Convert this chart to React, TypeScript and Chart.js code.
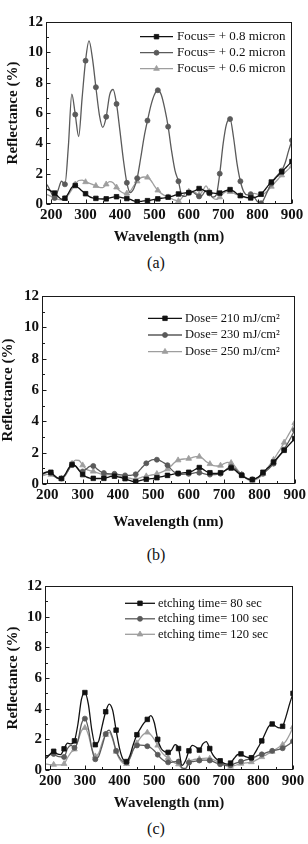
import React, { useEffect, useRef } from "react";
import { Chart, registerables } from "chart.js";

Chart.register(...registerables);

const SERIF = '"Liberation Serif", "Times New Roman", Times, serif';

// Wavelength grid shared by every spectrum (nm)
const wavelengths = [
  180, 190, 200, 210, 220, 230, 240, 250, 260, 270,
  280, 290, 300, 310, 320, 330, 340, 350, 360, 370,
  380, 390, 400, 410, 420, 430, 440, 450, 460, 470,
  480, 490, 500, 510, 520, 530, 540, 550, 560, 570,
  580, 590, 600, 610, 620, 630, 640, 650, 660, 670,
  680, 690, 700, 710, 720, 730, 740, 750, 760, 770,
  780, 790, 800, 810, 820, 830, 840, 850, 860, 870,
  880, 890, 900,
];

const wavelengthTicks = [200, 300, 400, 500, 600, 700, 800, 900];
const reflectanceTicks = [0, 2, 4, 6, 8, 10, 12];

// (a) focus series, reflectance in %
const focus08 = [
  1.0, 0.95, 0.85, 0.72, 0.5, 0.32, 0.38, 0.7, 1.1, 1.22,
  1.05, 0.85, 0.68, 0.5, 0.4, 0.37, 0.34, 0.33, 0.34, 0.4,
  0.46, 0.48, 0.45, 0.4, 0.36, 0.3, 0.2, 0.15, 0.17, 0.2,
  0.22, 0.26, 0.3, 0.34, 0.38, 0.4, 0.45, 0.5, 0.58, 0.66,
  0.7, 0.73, 0.75, 0.8, 0.9, 1.02, 0.95, 0.82, 0.75, 0.72,
  0.7, 0.72, 0.8, 0.9, 0.95, 0.85, 0.68, 0.55, 0.48, 0.42,
  0.4, 0.42, 0.5, 0.65, 0.9, 1.2, 1.45, 1.65, 1.9, 2.12,
  2.35, 2.58, 2.8,
];
const focus02 = [
  1.4, 1.2, 0.75, 0.4, 0.9, 1.5, 1.3, 3.8, 7.25, 5.9,
  4.45, 7.0, 9.45, 10.75, 9.6, 7.7, 5.9, 5.05, 5.75, 7.2,
  7.55, 6.6, 4.8, 2.9, 1.4, 0.75, 1.0, 1.7, 3.0, 4.4,
  5.5, 6.5, 7.2, 7.5, 7.2, 6.3, 5.1, 3.5, 2.2, 1.5,
  0.55, 0.5, 0.75, 0.8, 0.65, 0.5, 0.6, 0.9, 0.7, 0.45,
  0.6, 2.0, 4.0, 5.3, 5.6, 4.4, 2.7, 1.5, 0.8, 0.6,
  0.65, 0.45, 0.15, 0.05, 0.4, 0.9, 1.35, 1.7, 1.95, 2.2,
  2.7, 3.5, 4.2,
];
const focus06 = [
  0.7, 0.6, 0.5, 0.4, 0.3, 0.28, 0.35, 0.6, 0.95, 1.3,
  1.55, 1.58, 1.45, 1.38, 1.3, 1.2, 1.1, 1.08, 1.3, 1.47,
  1.4, 1.1, 0.85, 0.72, 0.7, 0.85, 1.2, 1.5, 1.72, 1.78,
  1.75, 1.55, 1.2, 0.9, 0.7, 0.55, 0.45, 0.35, 0.25, 0.2,
  0.4, 0.7, 0.82, 0.85, 0.75, 0.6, 0.85, 1.2, 0.8, 0.4,
  0.3, 0.45, 0.7, 0.82, 0.8, 0.72, 0.62, 0.55, 0.45, 0.4,
  0.55, 0.7, 0.65, 0.6, 0.7, 0.9, 1.15, 1.4, 1.65, 1.9,
  2.1, 2.3, 2.5,
];

// (b) dose series
const dose210 = [
  0.6, 0.7, 0.78, 0.75, 0.55, 0.38, 0.35, 0.6, 1.0, 1.25,
  1.15, 0.85, 0.6, 0.45, 0.38, 0.36, 0.35, 0.35, 0.36, 0.42,
  0.48, 0.5, 0.46, 0.4, 0.34, 0.25, 0.17, 0.15, 0.2, 0.26,
  0.3, 0.33, 0.36, 0.4, 0.45, 0.5, 0.55, 0.6, 0.65, 0.68,
  0.7, 0.72, 0.75, 0.82, 0.95, 1.05, 0.95, 0.8, 0.72, 0.68,
  0.68, 0.72, 0.82, 0.95, 1.02, 0.9, 0.7, 0.55, 0.4, 0.3,
  0.28, 0.35, 0.5, 0.75, 0.95, 1.15, 1.4, 1.65, 1.9, 2.15,
  2.4, 2.65, 2.9,
];
const dose230 = [
  0.55, 0.65, 0.75, 0.7, 0.5, 0.36, 0.35, 0.55, 0.9, 1.2,
  1.15, 0.9, 0.8, 0.95, 1.12, 1.15, 0.98, 0.8, 0.7, 0.66,
  0.65, 0.65, 0.62, 0.58, 0.55, 0.55, 0.57, 0.62, 0.85, 1.1,
  1.32, 1.48, 1.55, 1.55, 1.48, 1.35, 1.2, 0.95, 0.75, 0.65,
  0.62, 0.63, 0.65, 0.68, 0.72, 0.72, 0.68, 0.62, 0.6, 0.6,
  0.62, 0.66, 0.8, 1.0, 1.1, 1.0, 0.78, 0.6, 0.42, 0.32,
  0.3, 0.36, 0.48, 0.65, 0.85, 1.05, 1.3, 1.6, 1.9, 2.2,
  2.6, 3.0, 3.45,
];
const dose250 = [
  0.45, 0.55, 0.62, 0.6, 0.48, 0.35, 0.33, 0.5, 0.9, 1.3,
  1.52, 1.5, 1.2, 0.95, 0.85, 0.8, 0.72, 0.65, 0.62, 0.6,
  0.58, 0.55, 0.52, 0.48, 0.44, 0.38, 0.33, 0.32, 0.38, 0.45,
  0.5, 0.55, 0.6, 0.65, 0.72, 0.82, 0.95, 1.15, 1.38, 1.52,
  1.58, 1.6, 1.62, 1.68, 1.75, 1.75, 1.62, 1.42, 1.28, 1.18,
  1.15, 1.18, 1.3, 1.38, 1.35, 1.15, 0.85, 0.6, 0.4, 0.25,
  0.22, 0.28, 0.42, 0.65, 0.95, 1.25, 1.55, 1.9, 2.25, 2.65,
  3.05, 3.45, 3.9,
];

// (c) etching-time series
const etch80 = [
  0.75, 0.8, 1.05, 1.22, 1.05, 1.0, 1.38, 1.75, 1.7, 1.9,
  3.0, 4.6, 5.05, 4.3, 2.6, 1.65, 1.9, 2.9, 3.8, 4.3,
  3.9, 2.6, 1.4, 0.7, 0.55, 0.95, 1.7, 2.3, 2.7, 3.05,
  3.3, 3.55, 3.1, 2.0, 1.4, 1.2, 1.15, 1.3, 1.65, 1.4,
  0.3, 0.6, 1.25, 1.6, 1.5, 1.3, 1.7, 1.85, 1.4, 0.95,
  0.7, 0.6, 0.45, 0.38, 0.45, 0.75, 1.0, 1.05, 0.9, 0.82,
  0.8, 1.1, 1.5, 1.9, 2.4, 2.85, 3.0, 2.85, 2.75, 2.85,
  3.5, 4.3, 5.0,
];
const etch100 = [
  0.85, 0.9, 1.0, 1.05, 0.9, 0.85, 0.85, 1.4, 1.6, 1.45,
  1.9, 3.0, 3.35, 2.7, 1.4, 0.7, 0.9, 1.6, 2.35, 2.6,
  2.1, 1.25, 0.8, 0.55, 0.5, 0.8, 1.35, 1.6, 1.62, 1.6,
  1.55, 1.45, 1.25, 1.0, 0.75, 0.58, 0.5, 0.5, 0.55, 0.55,
  0.15, 0.1, 0.48, 0.55, 0.58, 0.62, 0.65, 0.65, 0.62, 0.55,
  0.45, 0.38, 0.33, 0.3, 0.32, 0.4, 0.48, 0.55, 0.62, 0.7,
  0.76, 0.85, 0.95, 1.02, 1.1, 1.18, 1.25, 1.3, 1.35, 1.42,
  1.55, 1.7, 1.88,
];
const etch120 = [
  0.4, 0.38, 0.35, 0.35, 0.33, 0.33, 0.4, 0.8, 1.15, 1.35,
  1.9, 2.55, 2.75, 2.3, 1.4, 0.9, 1.1, 1.8, 2.3, 2.45,
  2.0, 1.2, 0.7, 0.45, 0.4, 0.75, 1.35, 1.75, 2.1, 2.35,
  2.45, 2.3, 2.0, 1.6, 1.2, 0.95, 0.8, 0.6, 0.45, 0.38,
  0.1, 0.05, 0.55, 0.65, 0.7, 0.72, 0.75, 0.78, 0.75, 0.68,
  0.58, 0.48, 0.35, 0.25, 0.22, 0.28, 0.35, 0.42, 0.45, 0.48,
  0.52, 0.6, 0.72, 0.85, 0.95, 1.08, 1.2, 1.35, 1.5, 1.65,
  1.9, 2.3, 2.8,
];

const focusLabels = ["Focus= + 0.8 micron", "Focus= + 0.2 micron", "Focus= + 0.6 micron"];
const doseLabels = ["Dose= 210 mJ/cm\u00B2", "Dose= 230 mJ/cm\u00B2", "Dose= 250 mJ/cm\u00B2"];
const etchLabels = ["etching time= 80 sec", "etching time= 100 sec", "etching time= 120 sec"];

const BLACK = "#111111";
const DARK = "#5a5a5a";
const LIGHT = "#9e9e9e";
const seriesColors = [BLACK, DARK, LIGHT];
const seriesMarkers = ["rect", "circle", "triangle"] as const;
const markerRadius: Record<string, number> = { rect: 3.2, circle: 2.5, triangle: 3.3 };

// symbols sit on every third sample, starting at 210 nm
const MARKER_FROM = 210;
const MARKER_EVERY = 30;
const hasMarker = (w: number) => w >= MARKER_FROM && (w - MARKER_FROM) % MARKER_EVERY === 0;

function drawMarker(ctx: CanvasRenderingContext2D, style: string, x: number, y: number, r: number, color: string) {
  ctx.save();
  ctx.fillStyle = color;
  ctx.strokeStyle = color;
  ctx.lineWidth = 0.8;
  ctx.beginPath();
  if (style === "rect") {
    const s = r * Math.SQRT1_2;
    ctx.rect(x - s, y - s, 2 * s, 2 * s);
  } else if (style === "triangle") {
    let a = 0;
    ctx.moveTo(x + Math.sin(a) * r, y - Math.cos(a) * r);
    a += (2 * Math.PI) / 3;
    ctx.lineTo(x + Math.sin(a) * r, y - Math.cos(a) * r);
    a += (2 * Math.PI) / 3;
    ctx.lineTo(x + Math.sin(a) * r, y - Math.cos(a) * r);
    ctx.closePath();
  } else {
    ctx.arc(x, y, r, 0, Math.PI * 2);
  }
  ctx.fill();
  ctx.stroke();
  ctx.restore();
}

// Box frame with inward major and minor ticks (Origin style)
const frameTicks = {
  id: "frameTicks",
  afterDatasetsDraw(chart: any) {
    const { ctx, chartArea: a, scales } = chart;
    const xs = scales.x;
    const ys = scales.y;
    ctx.save();
    ctx.strokeStyle = "#1a1a1a";
    ctx.lineWidth = 1;
    ctx.strokeRect(Math.round(a.left) + 0.5, Math.round(a.top) + 0.5, Math.round(a.right - a.left) - 1, Math.round(a.bottom - a.top) - 1);
    ctx.beginPath();
    const xMinor = wavelengthTicks.slice(1).map((v, i) => (v + wavelengthTicks[i]) / 2);
    const yMinor = reflectanceTicks.slice(1).map((v, i) => (v + reflectanceTicks[i]) / 2);
    const b = Math.round(a.bottom) - 0.5;
    const l = Math.round(a.left) + 0.5;
    wavelengthTicks.forEach((v) => {
      const px = Math.round(xs.getPixelForValue(v)) + 0.5;
      ctx.moveTo(px, b);
      ctx.lineTo(px, b - 4);
    });
    xMinor.forEach((v) => {
      const px = Math.round(xs.getPixelForValue(v)) + 0.5;
      ctx.moveTo(px, b);
      ctx.lineTo(px, b - 2.5);
    });
    reflectanceTicks.forEach((v) => {
      const py = Math.round(ys.getPixelForValue(v)) + 0.5;
      ctx.moveTo(l, py);
      ctx.lineTo(l + 4, py);
    });
    yMinor.forEach((v) => {
      const py = Math.round(ys.getPixelForValue(v)) + 0.5;
      ctx.moveTo(l, py);
      ctx.lineTo(l + 2.5, py);
    });
    ctx.stroke();
    ctx.restore();
  },
};

// Legend drawn inside the plot: line, symbol, text
const insetLegend = {
  id: "insetLegend",
  afterDraw(chart: any, _args: any, opts: any) {
    const { ctx, chartArea } = chart;
    ctx.save();
    chart.data.datasets.forEach((ds: any, i: number) => {
      const y = chartArea.top + opts.y + i * opts.rowGap;
      const x0 = chartArea.left + opts.x;
      ctx.strokeStyle = ds.borderColor;
      ctx.lineWidth = ds.borderWidth;
      ctx.beginPath();
      ctx.moveTo(x0, y);
      ctx.lineTo(x0 + opts.lineLen, y);
      ctx.stroke();
      drawMarker(ctx, ds.pointStyle, x0 + opts.lineLen / 2, y, markerRadius[ds.pointStyle], ds.borderColor);
      ctx.fillStyle = "#111";
      ctx.font = `${opts.fontSize}px ${SERIF}`;
      ctx.textAlign = "left";
      ctx.textBaseline = "middle";
      ctx.fillText(ds.label, x0 + opts.lineLen + opts.gap, y);
    });
    ctx.restore();
  },
};

type Panel = {
  caption: string;
  labels: string[];
  series: number[][];
  top: number;
  height: number;
  padTop: number;
  padRight: number;
  yAxisWidth: number;
  xAxisHeight: number;
  xTitlePad: number;
  yTitlePad: number;
  legend: { x: number; y: number; lineLen: number; rowGap: number; fontSize: number; gap: number };
  captionTop: number;
};

const panels: Panel[] = [
  {
    caption: "(a)",
    labels: focusLabels,
    series: [focus08, focus02, focus06],
    top: 0,
    height: 252,
    padTop: 22,
    padRight: 16,
    yAxisWidth: 46,
    xAxisHeight: 48,
    xTitlePad: 6,
    yTitlePad: 5.2,
    legend: { x: 94, y: 14.7, lineLen: 33, rowGap: 16, fontSize: 13, gap: 4 },
    captionTop: 253,
  },
  {
    caption: "(b)",
    labels: doseLabels,
    series: [dose210, dose230, dose250],
    top: 275,
    height: 257,
    padTop: 21,
    padRight: 11,
    yAxisWidth: 42,
    xAxisHeight: 48,
    xTitlePad: 1.3,
    yTitlePad: 0.5,
    legend: { x: 106, y: 22.3, lineLen: 34, rowGap: 16.7, fontSize: 12.5, gap: 3 },
    captionTop: 544.5,
  },
  {
    caption: "(c)",
    labels: etchLabels,
    series: [etch80, etch100, etch120],
    top: 565,
    height: 249,
    padTop: 21,
    padRight: 15,
    yAxisWidth: 45,
    xAxisHeight: 44,
    xTitlePad: 2.3,
    yTitlePad: 5.2,
    legend: { x: 80, y: 17.3, lineLen: 30, rowGap: 15.5, fontSize: 12.5, gap: 3 },
    captionTop: 819,
  },
];

function SpectrumChart({ panel }: { panel: Panel }) {
  const ref = useRef<HTMLCanvasElement>(null);

  useEffect(() => {
    if (!ref.current) return;
    const datasets = panel.series.map((values, s) => {
      const style = seriesMarkers[s];
      return {
        label: panel.labels[s],
        data: wavelengths.map((w, i) => ({ x: w, y: values[i] })),
        borderColor: seriesColors[s],
        backgroundColor: seriesColors[s],
        borderWidth: 1.3,
        pointStyle: style,
        pointRadius: (c: any) => (c.dataIndex !== undefined && hasMarker(wavelengths[c.dataIndex]) ? markerRadius[style] : 0),
        pointBorderWidth: 0.8,
        pointHoverRadius: 0,
        cubicInterpolationMode: "monotone",
        fill: false,
      };
    });

    const tickFont = { family: SERIF, size: 15, weight: "bold" as const };

    const chart = new Chart(ref.current, {
      type: "line",
      data: { datasets: datasets as any },
      plugins: [frameTicks, insetLegend],
      options: {
        responsive: false,
        animation: false,
        devicePixelRatio: 1,
        events: [],
        layout: { padding: { top: panel.padTop, right: panel.padRight, left: 0, bottom: 0 } },
        plugins: {
          legend: { display: false },
          tooltip: { enabled: false },
          title: { display: false },
          insetLegend: panel.legend,
        } as any,
        scales: {
          x: {
            type: "linear",
            min: 185,
            max: 900,
            afterBuildTicks: (s: any) => {
              s.ticks = wavelengthTicks.map((v) => ({ value: v }));
            },
            afterFit: (s: any) => {
              s.height = panel.xAxisHeight;
            },
            grid: { display: false, drawTicks: false },
            border: { display: false },
            ticks: {
              color: "#111",
              font: tickFont,
              padding: 2,
              maxRotation: 0,
              autoSkip: false,
              callback: (v: any) => String(v),
            },
            title: {
              display: true,
              text: "Wavelength (nm)",
              color: "#111",
              font: { family: SERIF, size: 15, weight: "bold", lineHeight: 1.2 },
              padding: { top: 0, bottom: panel.xTitlePad },
            },
          },
          y: {
            type: "linear",
            min: 0,
            max: 12,
            afterBuildTicks: (s: any) => {
              s.ticks = reflectanceTicks.map((v) => ({ value: v }));
            },
            afterFit: (s: any) => {
              s.width = panel.yAxisWidth;
            },
            grid: { display: false, drawTicks: false },
            border: { display: false },
            ticks: {
              color: "#111",
              font: tickFont,
              padding: 3,
              autoSkip: false,
              callback: (v: any) => String(v),
            },
            title: {
              display: true,
              text: "Reflectance (%)",
              color: "#111",
              font: { family: SERIF, size: 15, weight: "bold", lineHeight: 1 },
              padding: { top: panel.yTitlePad, bottom: 0 },
            },
          },
        },
      } as any,
    });
    return () => chart.destroy();
  }, [panel]);

  return (
    <>
      <canvas
        ref={ref}
        width={308}
        height={panel.height}
        style={{ position: "absolute", left: 0, top: panel.top, width: 308, height: panel.height }}
      />
      <div
        style={{
          position: "absolute",
          left: 2,
          top: panel.captionTop,
          width: 308,
          textAlign: "center",
          fontFamily: SERIF,
          fontSize: 16,
          lineHeight: "19px",
          color: "#111",
        }}
      >
        {panel.caption}
      </div>
    </>
  );
}

export default function App() {
  return (
    <div
      style={{
        position: "fixed",
        left: 0,
        top: 0,
        width: 308,
        height: 844,
        background: "#fff",
        overflow: "hidden",
      }}
    >
      {panels.map((p) => (
        <SpectrumChart key={p.caption} panel={p} />
      ))}
    </div>
  );
}
